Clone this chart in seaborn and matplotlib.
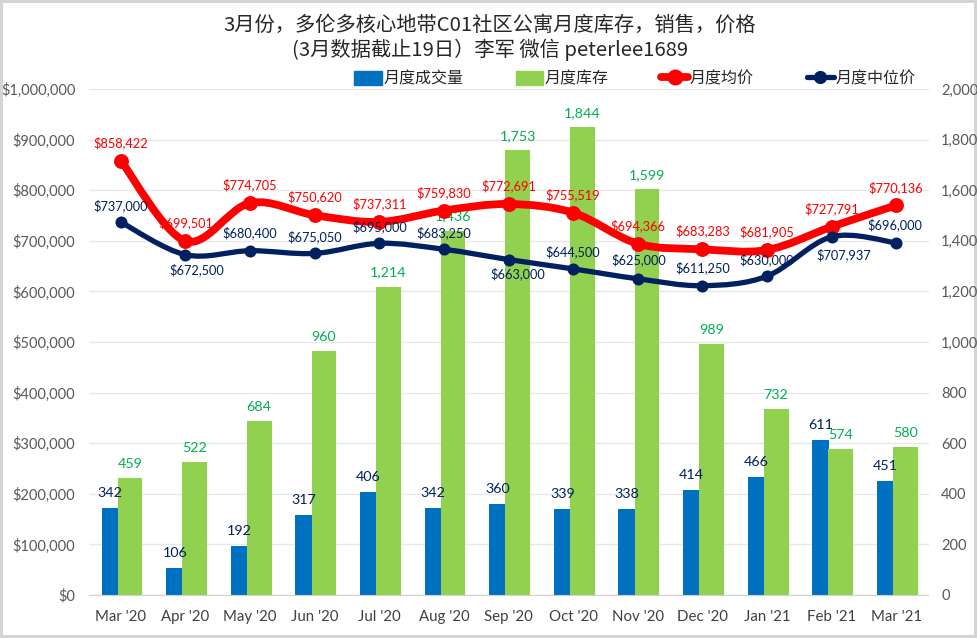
import numpy as np
import pandas as pd
import seaborn as sns
import matplotlib.pyplot as plt
from matplotlib.lines import Line2D
from matplotlib.patches import Patch, PathPatch
from matplotlib.path import Path

months = ["Mar '20", "Apr '20", "May '20", "Jun '20", "Jul '20", "Aug '20", "Sep '20",
          "Oct '20", "Nov '20", "Dec '20", "Jan '21", "Feb '21", "Mar '21"]
sold = [342, 106, 192, 317, 406, 342, 360, 339, 338, 414, 466, 611, 451]
inventory = [459, 522, 684, 960, 1214, 1436, 1753, 1844, 1599, 989, 732, 574, 580]
avg_price = [858422, 699501, 774705, 750620, 737311, 759830, 772691,
             755519, 694366, 683283, 681905, 727791, 770136]
median_price = [737000, 672500, 680400, 675050, 695000, 683250, 663000,
                644500, 625000, 611250, 630000, 707937, 696000]

# label offsets in points, only a few of the median labels sit below the line
median_offsets = [(0, 12), (8, -11), (0, 13), (0, 12), (0, 12), (0, 12), (7, -10),
                  (0, 12), (1, 14), (0, 13), (0, 12), (9, -13), (-1, 13)]

BLUE = "#0070c0"
GREEN = "#92d050"
RED = "#ff0000"
NAVY = "#002060"
GREEN_TEXT = "#00b050"
GREY_TEXT = "#595959"

sns.set_style("white")
plt.rcParams['font.family'] = ['Lato', 'Noto Sans CJK SC', 'DejaVu Sans']

fig = plt.figure(figsize=(9.77, 6.38), dpi=100, facecolor="white", edgecolor="#d4d4d4", linewidth=4)
ax = fig.add_axes([88.5 / 977, 43 / 638, 840 / 977, 506 / 638])
pos = np.arange(len(months))


def smooth_line(axis, values, color, lw):
    # same kind of curve as Excel's "smoothed line", bezier handles from the neighbours
    pts = np.column_stack([pos, values]).astype(float)
    prev_pts = np.vstack([pts[0], pts[:-1]])
    next_pts = np.vstack([pts[1:], pts[-1]])
    tang = (next_pts - prev_pts) / 6
    verts = [pts[0]]
    codes = [Path.MOVETO]
    for i in range(len(pts) - 1):
        verts += [pts[i] + tang[i], pts[i + 1] - tang[i + 1], pts[i + 1]]
        codes += [Path.CURVE4] * 3
    axis.add_patch(PathPatch(Path(verts, codes), fill=False, edgecolor=color, lw=lw,
                             capstyle="round", joinstyle="round", zorder=3))


# bars belong to the right axis
sns.barplot(x=pos - 0.168, y=sold, native_scale=True, width=0.26, color=BLUE, saturation=1,
            linewidth=0, ax=ax, zorder=1)
sns.barplot(x=pos + 0.135, y=inventory, native_scale=True, width=0.335, color=GREEN, saturation=1,
            edgecolor=GREEN, linewidth=2.2, ax=ax, zorder=2)
ax.set_xlim(-0.5, 12.5)
ax.set_ylim(0, 2000)
ax.set_xticks(pos)
ax.set_xticklabels(months, fontsize=10.8, color="#404040")
ax.set_xlabel("")
ax.set_ylabel("")
ax.grid(axis="y", color="#e8e8e8", lw=1)
ax.set_axisbelow(True)
ax.tick_params(axis="both", length=0)
ax.tick_params(axis="x", pad=11)
sns.despine(ax=ax, left=True, right=True, top=True)
ax.spines["bottom"].set_color("#d0d0d0")

for x, v in zip(pos, sold):
    ax.annotate(f"{v:,}", (x - 0.165, v), xytext=(0, 11), textcoords="offset points",
                ha="center", va="center", fontsize=10.3, color=NAVY, zorder=6)
for x, v in zip(pos, inventory):
    ax.annotate(f"{v:,}", (x + 0.14, v), xytext=(0, 11), textcoords="offset points",
                ha="center", va="center", fontsize=10.3, color=GREEN_TEXT, zorder=6)

# prices on the left axis, this one sits on top of the bars
ax2 = ax.twinx()
ax2.set_ylim(0, 1000000)
ax2.patch.set_alpha(0)
smooth_line(ax2, avg_price, RED, 5.6)
smooth_line(ax2, median_price, NAVY, 3.8)
sns.scatterplot(x=pos, y=avg_price, color=RED, s=115, linewidth=0, ax=ax2, zorder=4)
sns.scatterplot(x=pos, y=median_price, color=NAVY, s=75, linewidth=0, ax=ax2, zorder=5)
ax2.set_xlim(-0.5, 12.5)
ax2.set_yticks(range(0, 1000001, 100000))
ax2.set_yticklabels([f"${v:,}" for v in range(0, 1000001, 100000)], fontsize=10.5, color=GREY_TEXT)
ax2.set_ylabel("")
ax2.grid(False)
sns.despine(ax=ax2, left=True, right=True, top=True, bottom=True)

# twinx flips the tick sides, so set them after it
ax.yaxis.tick_right()
ax.set_yticks(range(0, 2001, 200))
ax.set_yticklabels([f"{v:,}" for v in range(0, 2001, 200)], fontsize=10.5, color=GREY_TEXT)
ax.tick_params(axis="y", length=0, pad=9)
ax2.yaxis.tick_left()
ax2.tick_params(axis="y", length=0, pad=9.5)

for x, v in zip(pos, avg_price):
    ax2.annotate(f"${v:,}", (x, v), xytext=(0, 13), textcoords="offset points",
                 ha="center", va="center", fontsize=9.2, color=RED, zorder=7)
for x, v, off in zip(pos, median_price, median_offsets):
    ax2.annotate(f"${v:,}", (x, v), xytext=off, textcoords="offset points",
                 ha="center", va="center", fontsize=9.2, color=NAVY, zorder=7)

fig.text(0.5015, 1 - 25 / 638, "3月份，多伦多核心地带C01社区公寓月度库存，销售，价格",
         ha="center", va="center", fontsize=14.6, color="#262626", family=['Noto Sans CJK SC', 'DejaVu Sans'])
fig.text(0.5015, 1 - 50 / 638, "(3月数据截止19日）李军 微信 peterlee1689",
         ha="center", va="center", fontsize=14.6, color="#262626", family=['Noto Sans CJK SC', 'DejaVu Sans'])

handles = [Patch(color=BLUE, label="月度成交量"),
           Patch(color=GREEN, label="月度库存"),
           Line2D([], [], color=RED, lw=5.6, marker="o", ms=10.5, label="月度均价"),
           Line2D([], [], color=NAVY, lw=3.8, marker="o", ms=8.5, label="月度中位价")]
fig.legend(handles=handles, ncol=4, loc="center left", bbox_to_anchor=(340 / 977, 1 - 79 / 638),
           frameon=False, handlelength=1.7, handleheight=1.0, handletextpad=0.1, columnspacing=3.3,
           prop={"family": ['Noto Sans CJK SC', 'DejaVu Sans'], "size": 11.5}, labelcolor="#262626")

fig.savefig("out.png", dpi=100, edgecolor=fig.get_edgecolor())
